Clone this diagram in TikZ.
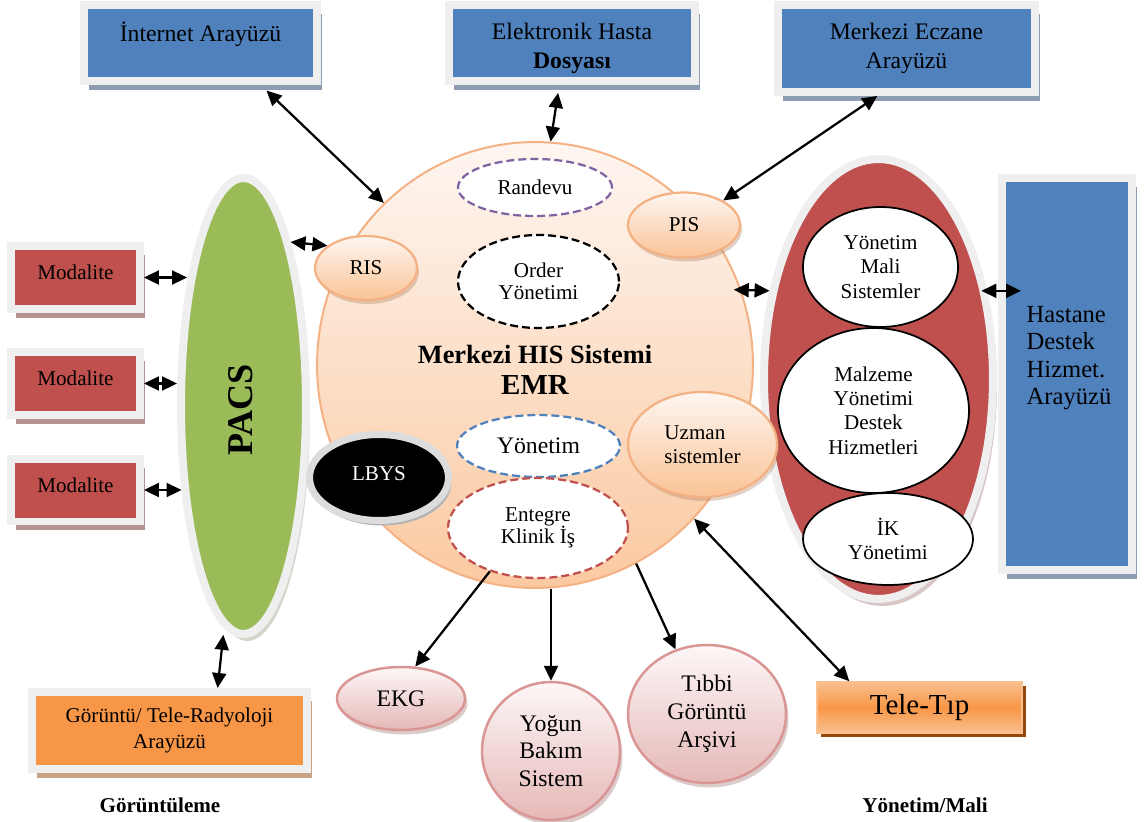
\documentclass[tikz,border=0pt]{standalone}
\usepackage{fontspec}
\setmainfont{Liberation Serif}
\usetikzlibrary{shapes.geometric,arrows.meta,positioning,calc,shadows}
\definecolor{OfficeBlue}{HTML}{4F81BD}
\definecolor{OfficeRed}{HTML}{C0504D}
\definecolor{OfficeGreen}{HTML}{9BBB59}
\definecolor{OfficeOrange}{HTML}{F79646}
\definecolor{OfficePurple}{HTML}{8064A2}
\definecolor{FrameGray}{HTML}{EFEFEF}
\definecolor{BlueShade}{HTML}{8E9CB3}
\definecolor{RedShade}{HTML}{B59292}
\definecolor{GreenShade}{HTML}{D2D7CB}
\definecolor{EllShade}{HTML}{D9C6C6}
\definecolor{OrangeShade}{HTML}{C9A185}
\definecolor{PeachTop}{HTML}{FEF6F1}
\definecolor{PeachBottom}{HTML}{FAC396}
\definecolor{PeachLine}{HTML}{F4B183}
\definecolor{PinkTop}{HTML}{FDF7F7}
\definecolor{PinkBottom}{HTML}{E5B8B7}
\definecolor{PinkLine}{HTML}{D99694}
\definecolor{TeleLight}{HTML}{FAC090}
\definecolor{TeleShade}{HTML}{984807}
\newcommand{\fsz}[2]{\fontsize{#1}{#2}\selectfont}

\begin{document}
\begin{tikzpicture}[x=0.02cm,y=-0.02cm,
  every node/.style={font=\fsz{12}{14}, align=center, inner sep=0pt},
  framed/.style={draw=FrameGray, line width=1.6mm},
  bluebox/.style={framed, fill=OfficeBlue, font=\fsz{13.5}{16.4}, drop shadow={shadow xshift=1mm, shadow yshift=-1.8mm, fill=BlueShade, opacity=1}},
  modbox/.style={framed, fill=OfficeRed, minimum width=25.8mm, minimum height=12.6mm, text height=2.8mm, text depth=2mm, drop shadow={shadow xshift=1mm, shadow yshift=-1.8mm, fill=RedShade, opacity=1}},
  peach/.style={ellipse, draw=PeachLine, line width=0.45mm, top color=PeachTop, bottom color=PeachBottom, drop shadow={shadow xshift=0.4mm, shadow yshift=-0.8mm, fill=PeachLine!70!black, opacity=0.35}},
  pinky/.style={ellipse, draw=PinkLine, line width=0.5mm, top color=PinkTop, bottom color=PinkBottom, font=\fsz{13.5}{15.6}, drop shadow={shadow xshift=0.5mm, shadow yshift=-0.9mm, fill=PinkLine!70!black, opacity=0.35}},
  dashring/.style={ellipse, fill=white, line width=0.45mm, dash pattern=on 1.6mm off 0.8mm},
  subsys/.style={ellipse, draw, fill=white, line width=0.35mm, font=\fsz{12}{13.8}},
  arr/.style={-{Triangle[length=3mm,width=2.8mm]}, line width=0.45mm},
  dbl/.style={arr, {Triangle[length=3mm,width=2.8mm]}-{Triangle[length=3mm,width=2.8mm]}}]
  \path[use as bounding box] (0,0) rectangle (1144,822);

  \node[ellipse, framed, fill=OfficeGreen, minimum width=25mm, minimum height=91.2mm, drop shadow={shadow xshift=0.8mm, shadow yshift=-1.4mm, fill=GreenShade, opacity=1}] (pacs) at (243.5,406) {};
  \node[rotate=90, font=\fsz{20.6}{24}\bfseries] (pacstxt) at (241,410) {PACS};
  \node[ellipse, framed, fill=OfficeRed, minimum width=45.8mm, minimum height=88mm, drop shadow={shadow xshift=0.8mm, shadow yshift=-1.4mm, fill=EllShade, opacity=1}] (mgmt) at (878.5,379) {};

  \node[ellipse, draw=PeachLine, line width=0.4mm, top color=PeachTop, bottom color=PeachBottom!90!white, minimum width=87.2mm, minimum height=89.2mm] (main) at (535,365) {};
  \node[dashring, draw=OfficePurple, minimum width=30.8mm, minimum height=11.4mm] (randevu) at (535,187.5) {Randevu};
  \node[dashring, draw=black, minimum width=32.2mm, minimum height=18.6mm, font=\fsz{12}{12.8}] (order) at (538.5,281.5) {Order\\Yönetimi};
  \node[font=\fsz{15}{17.6}\bfseries] (his) at (535,370) {Merkezi HIS Sistemi\\{\fsz{16.5}{17.6}EMR}};
  \node[dashring, draw=OfficeBlue, minimum width=32.6mm, minimum height=12.4mm, font=\fsz{13.5}{15}] (yonetim) at (538.5,446) {Yönetim};
  \node[dashring, draw=OfficeRed, minimum width=36mm, minimum height=20mm, font=\fsz{12}{12.8}] (entegre) at (538,528) {Entegre\\Klinik İş};
  \node[peach, minimum width=20.4mm, minimum height=12.8mm] (ris) at (366,268) {RIS};
  \node[peach, minimum width=22.4mm, minimum height=13mm] (pis) at (684,225) {PIS};
  \node[peach, minimum width=29.8mm, minimum height=21mm, align=left] (uzman) at (702.5,444.5) {Uzman\\sistemler};
  \node[ellipse, draw=FrameGray!92!black, line width=1.4mm, fill=black, text=white, minimum width=27.8mm, minimum height=17.2mm, text height=2.8mm, text depth=1.6mm, drop shadow={shadow xshift=0.6mm, shadow yshift=-1mm, fill=black!30, opacity=1}] (lbys) at (379,477.5) {LBYS};

  \node[subsys, minimum width=31mm, minimum height=24mm] (ymali) at (880.5,267) {Yönetim\\Mali\\Sistemler};
  \node[subsys, minimum width=38.2mm, minimum height=33mm] (malzeme) at (873.5,410.5) {Malzeme\\Yönetimi\\Destek\\Hizmetleri};
  \node[subsys, minimum width=34mm, minimum height=18.4mm] (ik) at (888,539) {İK\\Yönetimi};

  \node[bluebox, minimum width=46.6mm, minimum height=15.2mm, text height=3.1mm, text depth=3.6mm] (internet) at (200.5,43) {İnternet Arayüzü};
  \node[bluebox, minimum width=49.2mm, minimum height=15.2mm, label={[font=\fsz{13.5}{16.4}, yshift=-1.1mm]center:{Elektronik Hasta\\\textbf{Dosyası}}}] (ehr) at (572,43) {};
  \node[bluebox, minimum width=51.4mm, minimum height=17.4mm] (eczane) at (906.5,48.5) {Merkezi Eczane\\Arayüzü};
  \node[bluebox, minimum width=26mm, minimum height=78.4mm] (hastane) at (1067,374) {};
  \node[align=left, font=\fsz{14}{15.6}] (hastanetxt) at (1069,358) {Hastane\\Destek\\Hizmet.\\Arayüzü};
  \foreach \i/\y in {1/277.5,2/383.5,3/490}{\node[modbox] (mod\i) at (75.5,\y) {Modalite};}
  \node[framed, fill=OfficeOrange, minimum width=55mm, minimum height=15.4mm, font=\fsz{12}{14.8}, drop shadow={shadow xshift=1mm, shadow yshift=-1.8mm, fill=OrangeShade, opacity=1}] (gor) at (169.5,730.5) {Görüntü/ Tele-Radyoloji\\Arayüzü};
  \node[draw=TeleLight, line width=0.3mm, top color=TeleLight, bottom color=TeleLight, middle color=OfficeOrange, minimum width=41mm, minimum height=10.2mm, font=\fsz{16.5}{18}, drop shadow={shadow xshift=0.8mm, shadow yshift=-0.8mm, fill=TeleShade, opacity=1}] (tele) at (919.5,707.5) {Tele-Tıp};

  \node[pinky, minimum width=25.6mm, minimum height=12.6mm] (ekg) at (401,698.5) {EKG};
  \node[pinky, minimum width=27.6mm, minimum height=27.6mm, font=\fsz{13.5}{15.5}] (yogun) at (551,751) {Yoğun\\Bakım\\Sistem};
  \node[pinky, minimum width=31.6mm, minimum height=27.6mm, font=\fsz{13.5}{15.8}] (tibbi) at (707,714) {Tıbbi\\Görüntü\\Arşivi};
  \node[font=\fsz{12}{14}\bfseries] (imglbl) at (160,805) {Görüntüleme};
  \node[font=\fsz{12}{14}\bfseries] (mgmtlbl) at (925,805) {Yönetim/Mali};

  \draw[dbl, shorten <=1.6mm] ($(internet.south west)!0.75!(internet.south east)$) -- (main.133);
  \draw[dbl, shorten <=1.6mm] ($(ehr.south west)!0.45!(ehr.south east)$) -- (main.86);
  \draw[dbl] ($(eczane.south west)!0.39!(eczane.south east)$) -- (pis.32);
  \draw[dbl] (pacs.74) -- (ris.150);
  \foreach \m/\s in {mod1/-2mm,mod2/0mm,mod3/-0.9mm}{\draw[dbl, shorten >=\s] (\m.east) -- (\m.east -| pacs.west);}
  \draw[dbl, shorten <=1.4mm] (pacs.265) -- ($(gor.north west)!0.67!(gor.north east)$);
  \draw[dbl, shorten <=-1.5mm] (main.20) -- (mgmt.141);
  \draw[dbl] ([xshift=-1.2mm]mgmt.39) -- ([xshift=4.6mm]mgmt.39 -| hastane.west);
  \draw[arr] (entegre.222) -- (ekg.66);
  \draw[arr] (yogun.north |- main.south) -- (yogun.north);
  \draw[arr] (main.-63) -- (tibbi.116);
  \draw[dbl] (main.-44) -- ($(tele.north west)!0.16!(tele.north east)$);
\end{tikzpicture}
\end{document}
